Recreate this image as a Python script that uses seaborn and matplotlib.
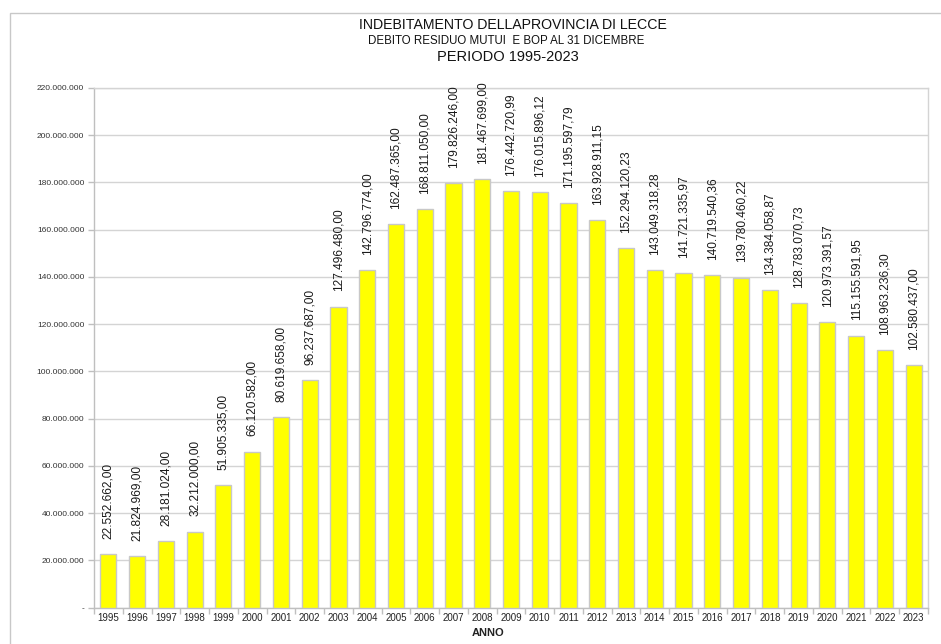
import matplotlib
matplotlib.use("Agg")
import matplotlib.pyplot as plt
import matplotlib.ticker as mticker
from matplotlib.patches import Rectangle
import seaborn as sns
import pandas as pd

# Debito residuo al 31 dicembre (euro)
anni = [str(a) for a in range(1995, 2024)]
debito = [22552662.00, 21824969.00, 28181024.00, 32212000.00, 51905335.00,
          66120582.00, 80619658.00, 96237687.00, 127496480.00, 142796774.00,
          162487365.00, 168811050.00, 179826246.00, 181467699.00, 176442720.99,
          176015896.12, 171195597.79, 163928911.15, 152294120.23, 143049318.28,
          141721335.97, 140719540.36, 139780460.22, 134384058.87, 128783070.73,
          120973391.57, 115155591.95, 108963236.30, 102580437.00]

df = pd.DataFrame({'anno': anni, 'debito': debito})


def fmt_it(v, dec=2):
    s = f"{v:,.{dec}f}"
    return s.replace(',', 'X').replace('.', ',').replace('X', '.')


sns.set_style('white')
plt.rcParams['font.family'] = ['Liberation Sans', 'DejaVu Sans']

fig = plt.figure(figsize=(9.41, 6.44), dpi=100)
ax = fig.add_axes([94 / 941, 1 - 607.7 / 644, 834 / 941, 519.7 / 644])

sns.barplot(data=df, x='anno', y='debito', color='#FFFF00', saturation=1,
            edgecolor='#c8c8c8', linewidth=1.0, width=0.56, ax=ax, zorder=3)

labels = [fmt_it(v) for v in debito]
ax.bar_label(ax.containers[0], labels=labels, rotation=90, padding=11,
             fontsize=8.6, color='#1a1a1a')

ax.set_ylim(0, 220000000)
ax.set_xlim(-0.5, len(anni) - 0.5)
ax.yaxis.set_major_locator(mticker.MultipleLocator(20000000))
ax.yaxis.set_major_formatter(mticker.FuncFormatter(
    lambda v, p: '-' if v == 0 else fmt_it(v, 0)))
ax.grid(axis='y', color='#d4d4d4', linewidth=1.0, zorder=0)
ax.set_axisbelow(True)

ax.xaxis.set_minor_locator(mticker.FixedLocator([i + 0.5 for i in range(-1, len(anni))]))
ax.tick_params(axis='x', which='major', length=0, labelsize=7, pad=4, colors='#222222')
ax.tick_params(axis='x', which='minor', length=4, width=1, color='#bfbfbf', direction='out', bottom=True)
ax.tick_params(axis='y', which='major', length=4, width=1, color='#bfbfbf', direction='out',
               left=True, labelsize=6, pad=3, labelcolor='#333333')

for side in ['left', 'bottom']:
    ax.spines[side].set_color('#bfbfbf')
    ax.spines[side].set_linewidth(1.0)
for side in ['top', 'right']:
    ax.spines[side].set_visible(True)
    ax.spines[side].set_color('#d4d4d4')
    ax.spines[side].set_linewidth(1.0)

ax.set_xlabel('')
ax.set_ylabel('')

fig.text(488 / 941, 1 - 633 / 644, 'ANNO', ha='center', va='center',
         fontsize=8, fontweight='bold', color='#222222')

fig.text(513 / 941, 1 - 25 / 644, 'INDEBITAMENTO DELLAPROVINCIA DI LECCE',
         ha='center', va='center', fontsize=10.2, color='#111111')
fig.text(506 / 941, 1 - 41 / 644, 'DEBITO RESIDUO MUTUI  E BOP AL 31 DICEMBRE',
         ha='center', va='center', fontsize=8.3, color='#111111')
fig.text(508 / 941, 1 - 57 / 644, 'PERIODO 1995-2023',
         ha='center', va='center', fontsize=10.5, color='#111111')

# bordo del grafico
fig.patches.append(Rectangle((9.5 / 941, -0.05), 1.1, 1 - 12.5 / 644 + 0.05,
                             transform=fig.transFigure, fill=False,
                             edgecolor='#c8c8c8', linewidth=1.0))

fig.savefig('out.png', dpi=100)
